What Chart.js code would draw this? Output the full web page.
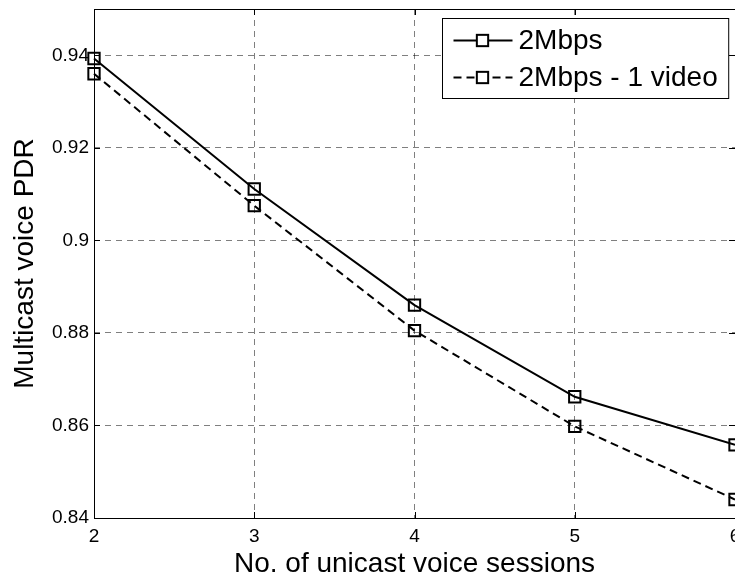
<!DOCTYPE html>
<html>
<head>
<meta charset="utf-8">
<title>Multicast voice PDR</title>
<script src="https://cdn.jsdelivr.net/npm/chart.js@4/dist/chart.umd.min.js"></script>
<style>
	html, body { margin: 0; padding: 0; background: #fff; overflow: hidden; }
	#canvas { display: block; }
</style>
</head>
<body>
<canvas id="canvas" width="735" height="579"></canvas>
<script>
var sessions = [2, 3, 4, 5, 6];
var pdr2Mbps = [0.9393, 0.9111, 0.8860, 0.8662, 0.8558];
var pdr2MbpsVideo = [0.9360, 0.9075, 0.8805, 0.8598, 0.8440];
var seriesLabels = ['2Mbps', '2Mbps - 1 video'];
var seriesDash = [[], [8, 5]];
var yTicks = [0.84, 0.86, 0.88, 0.90, 0.92, 0.94];

Chart.defaults.font.family = '"Liberation Sans", Arial, Helvetica, sans-serif';
Chart.defaults.color = '#000';

function toPoints(_values){
	return sessions.map(function(_x, _i){ return {x: _x, y: _values[_i]}; });
}

function buildDataset(_idx, _values){
	return {
		label: seriesLabels[_idx],
		data: toPoints(_values),
		borderColor: '#000',
		borderWidth: 2,
		borderDash: seriesDash[_idx],
		backgroundColor: 'rgba(0,0,0,0)',
		pointStyle: 'rect',
		pointRadius: 8,
		pointHoverRadius: 8,
		pointBorderWidth: 2,
		pointBorderColor: '#000',
		pointBackgroundColor: 'rgba(0,0,0,0)',
		fill: false,
		tension: 0,
		clip: false
	};
}

// matlab style box: frame, inward ticks and a boxed legend in the top right corner
var matlabBox = {
	id: 'matlabBox',
	afterDraw: function(chart){
		var ctx = chart.ctx;
		var area = chart.chartArea;
		var xs = chart.scales.x, ys = chart.scales.y;
		var tick = 6;
		ctx.save();
		ctx.strokeStyle = '#000';
		ctx.lineWidth = 1;
		ctx.setLineDash([]);
		ctx.beginPath();
		ctx.rect(Math.round(area.left) + 0.5, Math.round(area.top) + 0.5, Math.round(area.right - area.left), Math.round(area.bottom - area.top));
		xs.ticks.forEach(function(_t){
			var px = Math.round(xs.getPixelForValue(_t.value)) + 0.5;
			ctx.moveTo(px, area.bottom); ctx.lineTo(px, area.bottom - tick);
			ctx.moveTo(px, area.top); ctx.lineTo(px, area.top + tick);
		});
		ys.ticks.forEach(function(_t){
			var py = Math.round(ys.getPixelForValue(_t.value)) + 0.5;
			ctx.moveTo(area.left, py); ctx.lineTo(area.left + tick, py);
			ctx.moveTo(area.right, py); ctx.lineTo(area.right - tick, py);
		});
		ctx.stroke();

		// legend
		var fontSize = 28;
		ctx.font = fontSize + 'px ' + Chart.defaults.font.family;
		var textW = 0;
		chart.data.datasets.forEach(function(_ds){
			textW = Math.max(textW, ctx.measureText(_ds.label).width);
		});
		var w = 76 + textW + 11, h = 80;
		var left = Math.round(area.right - 7 - w) + 0.5;
		var top = Math.round(area.top + 9) + 0.5;
		ctx.fillStyle = '#fff';
		ctx.fillRect(left, top, w, h);
		ctx.strokeRect(left, top, w, h);
		ctx.textBaseline = 'middle';
		ctx.textAlign = 'left';
		chart.data.datasets.forEach(function(_ds, _i){
			var cy = top + 22 + _i * 37;
			ctx.lineWidth = 2;
			ctx.setLineDash(_ds.borderDash || []);
			ctx.beginPath();
			ctx.moveTo(left + 11, cy);
			ctx.lineTo(left + 70, cy);
			ctx.stroke();
			ctx.setLineDash([]);
			var s = _ds.pointRadius * Math.SQRT1_2;
			ctx.fillStyle = '#fff';
			ctx.fillRect(left + 40 - s, cy - s, 2 * s, 2 * s);
			ctx.strokeRect(left + 40 - s, cy - s, 2 * s, 2 * s);
			ctx.fillStyle = '#000';
			ctx.fillText(_ds.label, left + 76, cy + 1);
		});
		ctx.restore();
	}
};

var ctx = document.getElementById('canvas').getContext('2d');
window.pdrChart = new Chart(ctx, {
	type: 'line',
	data: {
		datasets: [buildDataset(0, pdr2Mbps), buildDataset(1, pdr2MbpsVideo)]
	},
	plugins: [matlabBox],
	options: {
		responsive: false,
		animation: false,
		layout: { autoPadding: false, padding: { top: 9, left: 0, right: 0, bottom: 0 } },
		plugins: {
			legend: { display: false },
			tooltip: { enabled: false }
		},
		scales: {
			x: {
				type: 'linear',
				min: 2,
				max: 6,
				border: { display: false, dash: [6, 5] },
				grid: {
					color: 'rgba(0,0,0,0.5)',
					lineWidth: 1,
					drawTicks: false
				},
				ticks: {
					stepSize: 1,
					padding: 7,
					maxRotation: 0,
					font: { size: 19 }
				},
				title: {
					display: true,
					text: 'No. of unicast voice sessions',
					font: { size: 28, lineHeight: 1 },
					padding: { top: 0, bottom: 1 }
				},
				afterFit: function(scale){
					scale.height = 61;
					scale.paddingLeft = 0;
					scale.paddingRight = 0;
				}
			},
			y: {
				type: 'linear',
				min: 0.84,
				max: 0.95,
				border: { display: false, dash: [6, 5] },
				grid: {
					color: 'rgba(0,0,0,0.5)',
					lineWidth: 1,
					drawTicks: false
				},
				ticks: {
					stepSize: 0.02,
					padding: 5,
					font: { size: 19 },
					callback: function(v){ return String(+v.toFixed(2)); }
				},
				afterBuildTicks: function(scale){
					scale.ticks = yTicks.map(function(v){ return {value: v}; });
				},
				title: {
					display: true,
					text: 'Multicast voice PDR',
					font: { size: 28, lineHeight: 1 },
					padding: { top: 11, bottom: 0 }
				},
				afterFit: function(scale){
					scale.width = 94;
					scale.paddingTop = 0;
					scale.paddingBottom = 0;
				}
			}
		}
	}
});
</script>
</body>
</html>
